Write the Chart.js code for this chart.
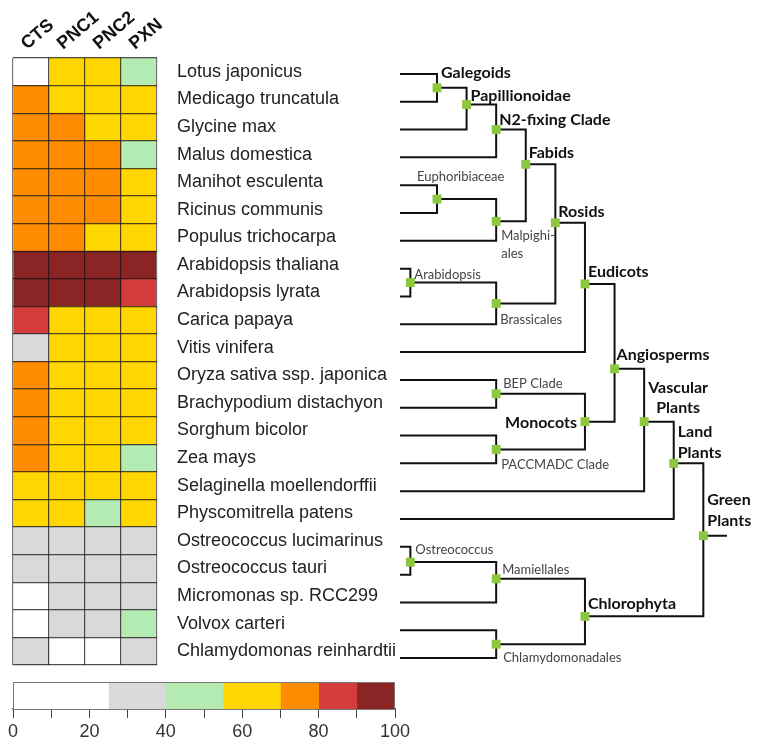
<!DOCTYPE html>
<html>
<head>
<meta charset="utf-8">
<script src="https://cdn.jsdelivr.net/npm/chart.js@4.4.0/dist/chart.umd.min.js"></script>
<style>
  html, body { margin: 0; padding: 0; background: #fff; }
  #wrap { position: relative; width: 768px; height: 750px; overflow: hidden; }
  canvas { position: absolute; }
</style>
</head>
<body>
<div id="wrap">
  <canvas id="heat" width="410" height="750" style="left:0;top:0"></canvas>
  <canvas id="tree" width="768" height="750" style="left:0;top:0"></canvas>
  <canvas id="scale" width="440" height="80" style="left:0;top:670px"></canvas>
</div>
<script>
// ---- data ----
const genes = ['CTS', 'PNC1', 'PNC2', 'PXN'];
const species = [
  'Lotus japonicus', 'Medicago truncatula', 'Glycine max', 'Malus domestica',
  'Manihot esculenta', 'Ricinus communis', 'Populus trichocarpa', 'Arabidopsis thaliana',
  'Arabidopsis lyrata', 'Carica papaya', 'Vitis vinifera', 'Oryza sativa ssp. japonica',
  'Brachypodium distachyon', 'Sorghum bicolor', 'Zea mays', 'Selaginella moellendorffii',
  'Physcomitrella patens', 'Ostreococcus lucimarinus', 'Ostreococcus tauri',
  'Micromonas sp. RCC299', 'Volvox carteri', 'Chlamydomonas reinhardtii'
];
const ctsValues  = [15, 75, 75, 75, 75, 75, 75, 95, 95, 85, 33, 75, 75, 75, 75, 63, 63, 33, 33, 15, 15, 33];
const pnc1Values = [63, 63, 75, 75, 75, 75, 75, 95, 95, 63, 63, 63, 63, 63, 63, 63, 63, 33, 33, 33, 33, 15];
const pnc2Values = [63, 63, 63, 75, 75, 75, 63, 95, 95, 63, 63, 63, 63, 63, 63, 63, 48, 33, 33, 33, 33, 15];
const pxnValues  = [48, 63, 63, 48, 63, 63, 63, 95, 85, 63, 63, 63, 63, 63, 48, 63, 63, 33, 33, 33, 48, 33];

const colorBreaks = [0, 25, 40, 55, 70, 80, 90, 100];
const binColors = ['#ffffff', '#d9d9d9', '#b3ebb3', '#ffd600', '#ff8c00', '#d43c3c', '#8b2525'];
const scaleTicks = [0, 20, 40, 60, 80, 100];

// tree: internal clades (depth in branching levels, row in species-row units)
const cladeNames  = ['Galegoids', 'Papillionoidae', 'N2-fixing Clade', 'Euphoribiaceae', 'Malpighiales',
  'Fabids', 'Arabidopsis', 'Brassicales', 'Rosids', 'Eudicots', 'BEP Clade', 'PACCMADC Clade',
  'Monocots', 'Angiosperms', 'Vascular Plants', 'Land Plants', 'Ostreococcus', 'Mamiellales',
  'Chlamydomonadales', 'Chlorophyta', 'Green Plants'];
const cladeDepth  = [1, 2, 3, 1, 3, 4, 0.1, 3, 5, 6, 3, 3, 6, 7, 8, 9, 0.1, 3, 3, 6, 10];
const cladeRow    = [0.5, 1.1, 2.0, 4.5, 5.3, 3.25, 7.5, 8.25, 5.35, 7.55, 11.5, 13.5, 12.5, 10.6,
  12.5, 14.0, 17.55, 18.15, 20.5, 19.5, 16.6];
const cladeParent = ['Papillionoidae', 'N2-fixing Clade', 'Fabids', 'Malpighiales', 'Fabids', 'Rosids',
  'Brassicales', 'Rosids', 'Eudicots', 'Angiosperms', 'Monocots', 'Monocots', 'Angiosperms',
  'Vascular Plants', 'Land Plants', 'Green Plants', 'Mamiellales', 'Chlorophyta', 'Chlorophyta',
  'Green Plants', null];
const leafParent = ['Galegoids', 'Galegoids', 'Papillionoidae', 'N2-fixing Clade', 'Euphoribiaceae',
  'Euphoribiaceae', 'Malpighiales', 'Arabidopsis', 'Arabidopsis', 'Brassicales', 'Eudicots',
  'BEP Clade', 'BEP Clade', 'PACCMADC Clade', 'PACCMADC Clade', 'Vascular Plants', 'Land Plants',
  'Ostreococcus', 'Ostreococcus', 'Mamiellales', 'Chlamydomonadales', 'Chlamydomonadales'];
const leafDepth = -0.25;
const rootEnd = 10.8;

// label placement (pixel offsets from the node), kept apart from the data
const labelStyle = {
  'Galegoids':         { lines: ['Galegoids'], dx: 4, dy: [-15], bold: true },
  'Papillionoidae':    { lines: ['Papillionoidae'], dx: 4, dy: [-9], bold: true },
  'N2-fixing Clade':   { lines: ['N2-fixing Clade'], dx: 3, dy: [-10], bold: true },
  'Euphoribiaceae':    { lines: ['Euphoribiaceae'], dx: -20, dy: [-22] },
  'Malpighiales':      { lines: ['Malpighi-', 'ales'], dx: 5, dy: [14, 32] },
  'Fabids':            { lines: ['Fabids'], dx: 3, dy: [-11], bold: true },
  'Arabidopsis':       { lines: ['Arabidopsis'], dx: 4, dy: [-8] },
  'Brassicales':       { lines: ['Brassicales'], dx: 4, dy: [16] },
  'Rosids':            { lines: ['Rosids'], dx: 3, dy: [-11], bold: true },
  'Eudicots':          { lines: ['Eudicots'], dx: 3, dy: [-12], bold: true },
  'BEP Clade':         { lines: ['BEP Clade'], dx: 7, dy: [-10] },
  'PACCMADC Clade':    { lines: ['PACCMADC Clade'], dx: 5, dy: [15] },
  'Monocots':          { lines: ['Monocots'], dx: -8, dy: [1], bold: true, align: 'right' },
  'Angiosperms':       { lines: ['Angiosperms'], dx: 2, dy: [-14], bold: true },
  'Vascular Plants':   { lines: ['Vascular', 'Plants'], dx: 34, dy: [-34, -14], bold: true, align: 'center' },
  'Land Plants':       { lines: ['Land', 'Plants'], dx: 4, dy: [-32, -11], bold: true },
  'Green Plants':      { lines: ['Green', 'Plants'], dx: 4, dy: [-36, -15], bold: true },
  'Ostreococcus':      { lines: ['Ostreococcus'], dx: 5, dy: [-12] },
  'Mamiellales':       { lines: ['Mamiellales'], dx: 6, dy: [-9] },
  'Chlorophyta':       { lines: ['Chlorophyta'], dx: 3, dy: [-13], bold: true },
  'Chlamydomonadales': { lines: ['Chlamydomonadales'], dx: 7, dy: [14] }
};

Chart.defaults.font.family = '"Liberation Sans", Arial, sans-serif';
Chart.defaults.animation = false;

function binColor(v) {
  for (let k = 0; k < binColors.length; k++) {
    if (v < colorBreaks[k + 1]) return binColors[k];
  }
  return binColors[binColors.length - 1];
}

// ---- heatmap ----
const geneValues = [ctsValues, pnc1Values, pnc2Values, pxnValues];
const cellLine = 'rgba(20,20,20,0.75)';

const headerPlugin = {
  id: 'headers',
  afterDraw(chart) {
    const { ctx } = chart;
    const x = chart.scales.x;
    ctx.save();
    ctx.font = 'bold 18px "Liberation Sans", Arial, sans-serif';
    ctx.fillStyle = '#111';
    genes.forEach((g, j) => {
      const px = x.getPixelForValue(j + 0.5);
      ctx.save();
      ctx.translate(px - 4, 50);
      ctx.rotate(-40 * Math.PI / 180);
      ctx.fillText(g, 0, 0);
      ctx.restore();
    });
    ctx.restore();
  }
};

new Chart(document.getElementById('heat'), {
  type: 'bar',
  data: {
    labels: species,
    datasets: genes.map((g, j) => ({
      label: g,
      data: species.map(() => [j, j + 1]),
      backgroundColor: geneValues[j].map(binColor),
      borderWidth: 0,
      grouped: false,
      barPercentage: 1,
      categoryPercentage: 1
    }))
  },
  options: {
    indexAxis: 'y',
    responsive: false,
    layout: { padding: { left: 13, top: 58, bottom: 85, right: 0 } },
    plugins: { legend: { display: false }, tooltip: { enabled: false } },
    scales: {
      x: {
        type: 'linear', min: 0, max: 4,
        ticks: { display: false, stepSize: 1 },
        grid: {
          z: 1, lineWidth: 1.2, drawTicks: false,
          color: ctx => (ctx.tick.value === 0 || ctx.tick.value === 4) ? '#777' : cellLine
        },
        border: { display: false },
        afterFit: s => { s.height = 0; }
      },
      y: {
        position: 'right',
        grid: { z: 1, offset: true, color: cellLine, lineWidth: 1.2, drawTicks: false },
        border: { display: false },
        ticks: { padding: 20, color: '#222', font: { size: 18 } },
        afterFit: s => { s.width = 410 - 157; }
      }
    }
  },
  plugins: [headerPlugin]
});

// ---- tree ----
const cladeIndex = name => cladeNames.indexOf(name);
const branchPts = [];
function addBranch(x1, y1, parentName) {
  const p = cladeIndex(parentName);
  branchPts.push({ x: x1, y: y1 }, { x: cladeDepth[p], y: y1 }, { x: cladeDepth[p], y: cladeRow[p] },
    { x: cladeDepth[p], y: null });
}
species.forEach((s, i) => addBranch(leafDepth, i, leafParent[i]));
cladeNames.forEach((c, k) => {
  if (cladeParent[k] !== null) {
    addBranch(cladeDepth[k], cladeRow[k], cladeParent[k]);
  } else {
    branchPts.push({ x: cladeDepth[k], y: cladeRow[k] }, { x: rootEnd, y: cladeRow[k] }, { x: rootEnd, y: null });
  }
});

const cladeLabelPlugin = {
  id: 'cladeLabels',
  afterDatasetsDraw(chart) {
    const { ctx } = chart;
    const xs = chart.scales.x, ys = chart.scales.y;
    ctx.save();
    ctx.textBaseline = 'middle';
    cladeNames.forEach((c, k) => {
      const st = labelStyle[c];
      if (!st) return;
      const px = xs.getPixelForValue(cladeDepth[k]);
      const py = ys.getPixelForValue(cladeRow[k]);
      ctx.font = st.bold ? 'bold 16px Lato, "Open Sans", sans-serif' : '13px Lato, "Open Sans", sans-serif';
      ctx.fillStyle = st.bold ? '#111' : '#444';
      ctx.textAlign = st.align || 'left';
      st.lines.forEach((line, n) => ctx.fillText(line, px + st.dx, py + st.dy[n]));
    });
    ctx.restore();
  }
};

new Chart(document.getElementById('tree'), {
  type: 'scatter',
  data: {
    datasets: [
      {
        label: 'nodes',
        data: cladeNames.map((c, k) => ({ x: cladeDepth[k], y: cladeRow[k] })),
        pointStyle: 'rect',
        pointRadius: 6.3,
        backgroundColor: '#8dc63f',
        borderWidth: 0,
        clip: false
      },
      {
        label: 'branches',
        data: branchPts,
        showLine: true,
        spanGaps: false,
        pointRadius: 0,
        borderColor: '#111',
        borderWidth: 2,
        borderJoinStyle: 'miter',
        borderCapStyle: 'butt',
        clip: false
      }
    ]
  },
  options: {
    responsive: false,
    layout: { padding: { left: 400, right: 768 - 727, top: 60, bottom: 78 } },
    plugins: { legend: { display: false }, tooltip: { enabled: false } },
    scales: {
      x: { type: 'linear', min: leafDepth, max: rootEnd, display: false },
      y: { type: 'linear', min: -0.5, max: 21.5, reverse: true, display: false }
    }
  },
  plugins: [cladeLabelPlugin]
});

// ---- colour scale ----
const outlinePlugin = {
  id: 'outline',
  afterDatasetsDraw(chart) {
    const { ctx, chartArea: a } = chart;
    ctx.save();
    ctx.strokeStyle = '#777';
    ctx.lineWidth = 1;
    ctx.strokeRect(a.left + 0.5, a.top + 0.5, a.right - a.left - 1, a.bottom - a.top);
    ctx.restore();
  }
};

new Chart(document.getElementById('scale'), {
  type: 'bar',
  data: {
    labels: [''],
    datasets: binColors.map((c, k) => ({
      data: [[colorBreaks[k], colorBreaks[k + 1]]],
      backgroundColor: c,
      borderWidth: 0,
      grouped: false,
      barPercentage: 1,
      categoryPercentage: 1
    }))
  },
  options: {
    indexAxis: 'y',
    responsive: false,
    layout: { padding: { left: 13, right: 440 - 395, top: 12, bottom: 0 } },
    plugins: { legend: { display: false }, tooltip: { enabled: false } },
    scales: {
      x: {
        type: 'linear', min: 0, max: 100,
        ticks: {
          stepSize: 10, autoSkip: false, maxRotation: 0, padding: 3,
          color: '#333', font: { size: 18 },
          callback: v => scaleTicks.includes(v) ? String(v) : ''
        },
        grid: { drawOnChartArea: false, tickLength: 9, color: '#444' },
        border: { color: '#444', width: 1.2 },
        afterFit: s => { s.height = 41; }
      },
      y: { display: false }
    }
  },
  plugins: [outlinePlugin]
});
</script>
</body>
</html>
